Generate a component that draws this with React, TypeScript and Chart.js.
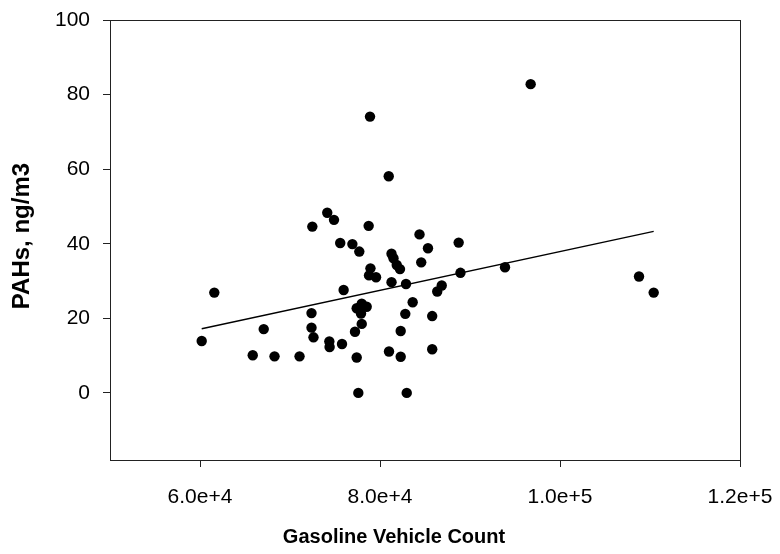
import React, { useEffect, useRef } from "react";
import { Chart, registerables } from "chart.js";

Chart.register(...registerables);

// Gasoline vehicle count per site and the measured PAH concentration (ng/m3)
const gasolineCount = [
  60190, 61590, 65860, 67080, 68280, 71060, 72390, 72390, 72610, 72480,
  74140, 74890, 74370, 74400, 75780, 75580, 76930, 77700, 75960, 78740,
  78890, 80970, 77410, 77970, 78520, 77890, 77970, 77220, 77410, 77590,
  78940, 78780, 79560, 81280, 81500, 81860, 82220, 81280, 82890, 81000,
  82300, 82300, 82970, 82810, 83630, 84390, 84580, 85330, 85800, 85800,
  86360, 86860, 88740, 88940, 93890, 96740, 108780, 110410,
];
const pahs = [
  13.9, 26.9, 10.1, 17.1, 9.8, 9.8, 21.4, 17.5, 14.9, 44.6,
  48.3, 46.4, 13.8, 12.3, 13.1, 40.2, 39.9, 37.9, 27.6, 44.8,
  74.1, 58.1, 22.7, 23.9, 23.1, 21.3, 18.5, 16.4, 9.5, 0,
  33.4, 31.5, 31.0, 37.3, 36.1, 34.3, 33.2, 29.7, 29.2, 11.1,
  16.6, 9.7, 0, 21.2, 24.3, 42.5, 35.0, 38.8, 20.6, 11.7,
  27.2, 28.8, 40.3, 32.2, 33.7, 82.8, 31.2, 26.9,
];

// Linear regression line end points
const fitX = [60190, 110410];
const fitY = [17.2, 43.3];

// Axis ticks
const xTicks = [60000, 80000, 100000, 120000];
const xTickLabels = ["6.0e+4", "8.0e+4", "1.0e+5", "1.2e+5"];
const yTicks = [0, 20, 40, 60, 80, 100];

const xTitle = "Gasoline Vehicle Count";
const yTitle = "PAHs, ng/m3";

const FONT = "'Liberation Sans', Arial, Helvetica, sans-serif";

// Plot frame plus the two axis titles
const framePlugin = {
  id: "frame",
  afterDraw(chart: any) {
    const { ctx, chartArea } = chart;
    ctx.save();
    ctx.strokeStyle = "#222";
    ctx.lineWidth = 1;
    ctx.strokeRect(
      Math.round(chartArea.left) + 0.5,
      Math.round(chartArea.top) + 0.5,
      Math.round(chartArea.right - chartArea.left),
      Math.round(chartArea.bottom - chartArea.top)
    );

    ctx.fillStyle = "#000";
    ctx.textAlign = "center";
    ctx.textBaseline = "middle";
    ctx.font = `bold 20px ${FONT}`;
    ctx.fillText(xTitle, 394, 537);

    ctx.translate(22, 236);
    ctx.rotate(-Math.PI / 2);
    ctx.font = `bold 24px ${FONT}`;
    ctx.fillText(yTitle, 0, 0);
    ctx.restore();
  },
};

export default function App() {
  const canvasRef = useRef<HTMLCanvasElement | null>(null);

  useEffect(() => {
    if (!canvasRef.current) return;
    const points = gasolineCount.map((x, i) => ({ x, y: pahs[i] }));
    const line = fitX.map((x, i) => ({ x, y: fitY[i] }));

    const chart = new Chart(canvasRef.current, {
      type: "scatter",
      data: {
        datasets: [
          {
            label: "PAHs",
            data: points,
            backgroundColor: "#000",
            borderWidth: 0,
            pointRadius: 5.2,
            pointHoverRadius: 5.2,
          },
          {
            label: "Fit",
            data: line,
            showLine: true,
            borderColor: "#000",
            borderWidth: 1.3,
            pointRadius: 0,
            fill: false,
          } as any,
        ],
      },
      options: {
        responsive: false,
        animation: false,
        layout: { padding: { top: 20, right: 40, left: 0, bottom: 0 } },
        plugins: {
          legend: { display: false },
          tooltip: { enabled: false },
        },
        scales: {
          x: {
            type: "linear",
            min: 50000,
            max: 120000,
            afterBuildTicks: (scale: any) => {
              scale.ticks = xTicks.map((v) => ({ value: v }));
            },
            afterFit: (scale: any) => {
              scale.height = 94;
              // labels may overhang the plot box; do not shrink it for them
              scale.paddingLeft = 0;
              scale.paddingRight = 0;
            },
            ticks: {
              padding: 18,
              color: "#000",
              font: { family: FONT, size: 21 },
              maxRotation: 0,
              autoSkip: false,
              callback: (v: any) => {
                const i = xTicks.indexOf(Number(v));
                return i >= 0 ? xTickLabels[i] : "";
              },
            },
            grid: {
              display: true,
              drawOnChartArea: false,
              drawTicks: true,
              tickLength: 7,
              color: "#222",
              lineWidth: 1,
            },
            border: { display: false },
          },
          y: {
            type: "linear",
            min: -18,
            max: 100,
            afterBuildTicks: (scale: any) => {
              scale.ticks = yTicks.map((v) => ({ value: v }));
            },
            afterFit: (scale: any) => {
              scale.width = 110;
              scale.paddingTop = 0;
              scale.paddingBottom = 0;
            },
            ticks: {
              padding: 13,
              color: "#000",
              font: { family: FONT, size: 21 },
              autoSkip: false,
            },
            grid: {
              display: true,
              drawOnChartArea: false,
              drawTicks: true,
              tickLength: 7,
              color: "#222",
              lineWidth: 1,
            },
            border: { display: false },
          },
        },
      },
      plugins: [framePlugin],
    });

    return () => chart.destroy();
  }, []);

  return (
    <div style={{ position: "absolute", left: 0, top: 0, width: 780, height: 554, background: "#fff" }}>
      <canvas ref={canvasRef} width={780} height={554} />
    </div>
  );
}
